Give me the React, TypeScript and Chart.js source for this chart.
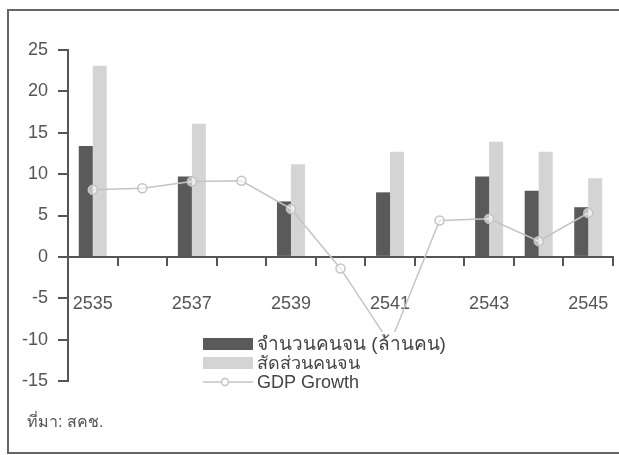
import React, { useEffect, useRef } from "react";
import { Chart, registerables } from "chart.js";

Chart.register(...registerables);

const years = ["2535", "2536", "2537", "2538", "2539", "2540", "2541", "2542", "2543", "2544", "2545"];
const poorCount = [13.4, null, 9.7, null, 6.7, null, 7.8, null, 9.7, 8.0, 6.0];
const poorShare = [23.1, null, 16.1, null, 11.2, null, 12.7, null, 13.9, 12.7, 9.5];
const gdpGrowth = [8.1, 8.3, 9.1, 9.2, 5.8, -1.4, -10.5, 4.4, 4.6, 1.9, 5.3];
const seriesNames = ["จำนวนคนจน (ล้านคน)", "สัดส่วนคนจน", "GDP Growth"];
const sourceNote = "ที่มา: สคช.";

const FONT = "'Liberation Sans', Arial, sans-serif";
const AXIS = "#555555";
const DARK = "#5a5a5a";
const LIGHT = "#d4d4d4";
const LINE = "#c4c4c4";

const legendPlugin = {
  id: "boxLegend",
  afterDraw(chart: any) {
    const ctx = chart.ctx;
    const box = { x: 198, y: 332, w: 250, h: 62 };
    ctx.save();
    ctx.fillStyle = "#ffffff";
    ctx.fillRect(box.x, box.y, box.w, box.h);
    const sx = 203;
    const sw = 50;
    const rows = [344, 363, 382];
    ctx.textBaseline = "middle";
    ctx.textAlign = "left";
    chart.data.datasets.forEach((ds: any, i: number) => {
      const cy = rows[i];
      if (ds.type === "line") {
        ctx.strokeStyle = LINE;
        ctx.lineWidth = 1.5;
        ctx.beginPath();
        ctx.moveTo(sx, cy);
        ctx.lineTo(sx + sw, cy);
        ctx.stroke();
        ctx.beginPath();
        ctx.fillStyle = "#fff";
        ctx.arc(sx + 22, cy, 3.5, 0, Math.PI * 2);
        ctx.fill();
        ctx.stroke();
      } else {
        ctx.fillStyle = ds.backgroundColor;
        ctx.fillRect(sx, cy - 6, sw, 12);
      }
      ctx.font = `${i === 0 ? 19 : 18}px ${FONT}`;
      ctx.fillStyle = "#444";
      ctx.fillText(ds.label, 257, cy + 1);
    });
    ctx.restore();
  },
};

export default function App() {
  const ref = useRef<HTMLCanvasElement>(null);
  useEffect(() => {
    if (!ref.current) return;
    const chart = new Chart(ref.current, {
      type: "bar",
      data: {
        labels: years,
        datasets: [
          {
            type: "bar",
            label: seriesNames[0],
            data: poorCount,
            backgroundColor: DARK,
            borderWidth: 0,
            barPercentage: 1,
            categoryPercentage: 0.565,
            order: 2,
          },
          {
            type: "bar",
            label: seriesNames[1],
            data: poorShare,
            backgroundColor: LIGHT,
            borderWidth: 0,
            barPercentage: 1,
            categoryPercentage: 0.565,
            order: 2,
          },
          {
            type: "line",
            label: seriesNames[2],
            data: gdpGrowth,
            borderColor: LINE,
            borderWidth: 1.5,
            pointRadius: 4.5,
            pointBackgroundColor: "rgba(255,255,255,0.6)",
            pointBorderColor: LINE,
            pointBorderWidth: 1.5,
            tension: 0,
            order: 1,
          },
        ] as any,
      },
      options: {
        responsive: false,
        animation: false,
        layout: { padding: { left: 0, right: 6, top: 50, bottom: 74 } },
        plugins: { legend: { display: false }, tooltip: { enabled: false } },
        scales: {
          x: {
            type: "category",
            position: { y: 0 } as any,
            offset: true,
            grid: {
              offset: true,
              drawOnChartArea: false,
              drawTicks: true,
              tickLength: 8,
              color: AXIS,
              lineWidth: 2,
            },
            border: { display: true, color: AXIS, width: 2 },
            ticks: {
              autoSkip: false,
              maxRotation: 0,
              padding: 28,
              color: "#555",
              font: { size: 18, family: FONT },
              callback: (_v: any, i: number) => (i % 2 === 0 ? years[i] : ""),
            },
            afterFit: (scale: any) => {
              scale.paddingLeft = 0;
              scale.paddingRight = 0;
            },
          },
          y: {
            min: -15,
            max: 25,
            grid: {
              drawOnChartArea: false,
              drawTicks: true,
              tickLength: 10,
              color: AXIS,
              lineWidth: 2,
            },
            border: { display: true, color: AXIS, width: 2 },
            ticks: {
              stepSize: 5,
              padding: 10,
              color: "#555",
              font: { size: 18, family: FONT },
            },
            afterFit: (scale: any) => {
              scale.width = 68;
            },
          },
        },
      },
      plugins: [legendPlugin],
    });
    return () => chart.destroy();
  }, []);

  return (
    <div style={{ position: "fixed", left: 0, top: 0, width: 619, height: 455, background: "#fff", overflow: "hidden" }}>
      <canvas ref={ref} width={619} height={455} style={{ position: "absolute", left: 0, top: 0 }} />
      <div
        style={{
          position: "absolute",
          left: 7,
          top: 9,
          width: 700,
          height: 441,
          borderTop: "2px solid #666",
          borderLeft: "2px solid #666",
          borderBottom: "2px solid #666",
          pointerEvents: "none",
        }}
      />
      <div
        style={{
          position: "absolute",
          left: 27,
          top: 409,
          fontFamily: FONT,
          fontSize: 16,
          color: "#555",
          whiteSpace: "nowrap",
        }}
      >
        {sourceNote}
      </div>
    </div>
  );
}
